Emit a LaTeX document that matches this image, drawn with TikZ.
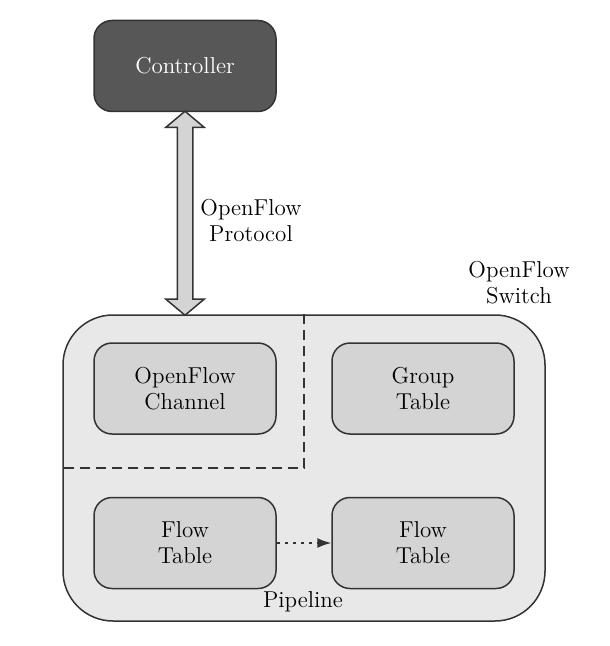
\documentclass[tikz,border=0pt]{standalone}
\usepackage{tikz}
\usetikzlibrary{arrows.meta, positioning, shapes.arrows, calc}

\definecolor{ctrlgray}{HTML}{575757}
\definecolor{boxgray}{HTML}{D4D4D4}
\definecolor{switchgray}{HTML}{E8E8E8}
\definecolor{edgegray}{HTML}{333333}

\begin{document}
\begin{tikzpicture}[x=0.5pt, y=-0.5pt,
    every node/.style={font=\fontsize{11.5}{13}\selectfont, align=center},
    tablebox/.style={draw=edgegray, line width=0.75pt, fill=boxgray, rounded corners=9pt,
        minimum width=91pt, minimum height=45.5pt, inner sep=0pt}]
    \useasboundingbox (0,0) rectangle (609,646);
    % switch and controller
    \node[draw=edgegray, line width=0.75pt, fill=switchgray, rounded corners=25pt,
        minimum width=241pt, minimum height=153pt, inner sep=0pt] (switch) at (304,468) {};
    \node[tablebox, fill=ctrlgray, text=white] (ctrl) at (185,66) {Controller};
    \draw[edgegray, line width=0.75pt, dash pattern=on 5pt off 3pt]
        (switch.north) -- (switch.center) -- (switch.center -| switch.west);
    % tables
    \node[tablebox] (ofchannel) at (185,388.5) {OpenFlow\\Channel};
    \node[tablebox] (grouptable) at (423,388.5) {Group\\Table};
    \node[tablebox] (flowA) at (185,543) {Flow\\Table};
    \node[tablebox] (flowB) at (423,543) {Flow\\Table};
    \draw[edgegray, line width=0.75pt, dash pattern=on 1.5pt off 2.5pt,
        -{Latex[length=7pt, width=5pt]}] (flowA) -- (flowB);
    % protocol arrow
    \coordinate (swtop) at (ctrl.south |- switch.north);
    \node[double arrow, draw=edgegray, line width=0.75pt, fill=boxgray, rotate=90,
        minimum height=102pt, inner sep=3.5pt,
        double arrow head extend=5.75pt, double arrow tip angle=100]
        (protocol) at ($(ctrl.south)!0.5!(swtop)$) {};
    \node (protolabel) at (251,221) {OpenFlow\\Protocol};
    \node (switchlabel) at (519,283) {OpenFlow\\Switch};
    \node (pipeline) at (303,602) {Pipeline};
\end{tikzpicture}
\end{document}
